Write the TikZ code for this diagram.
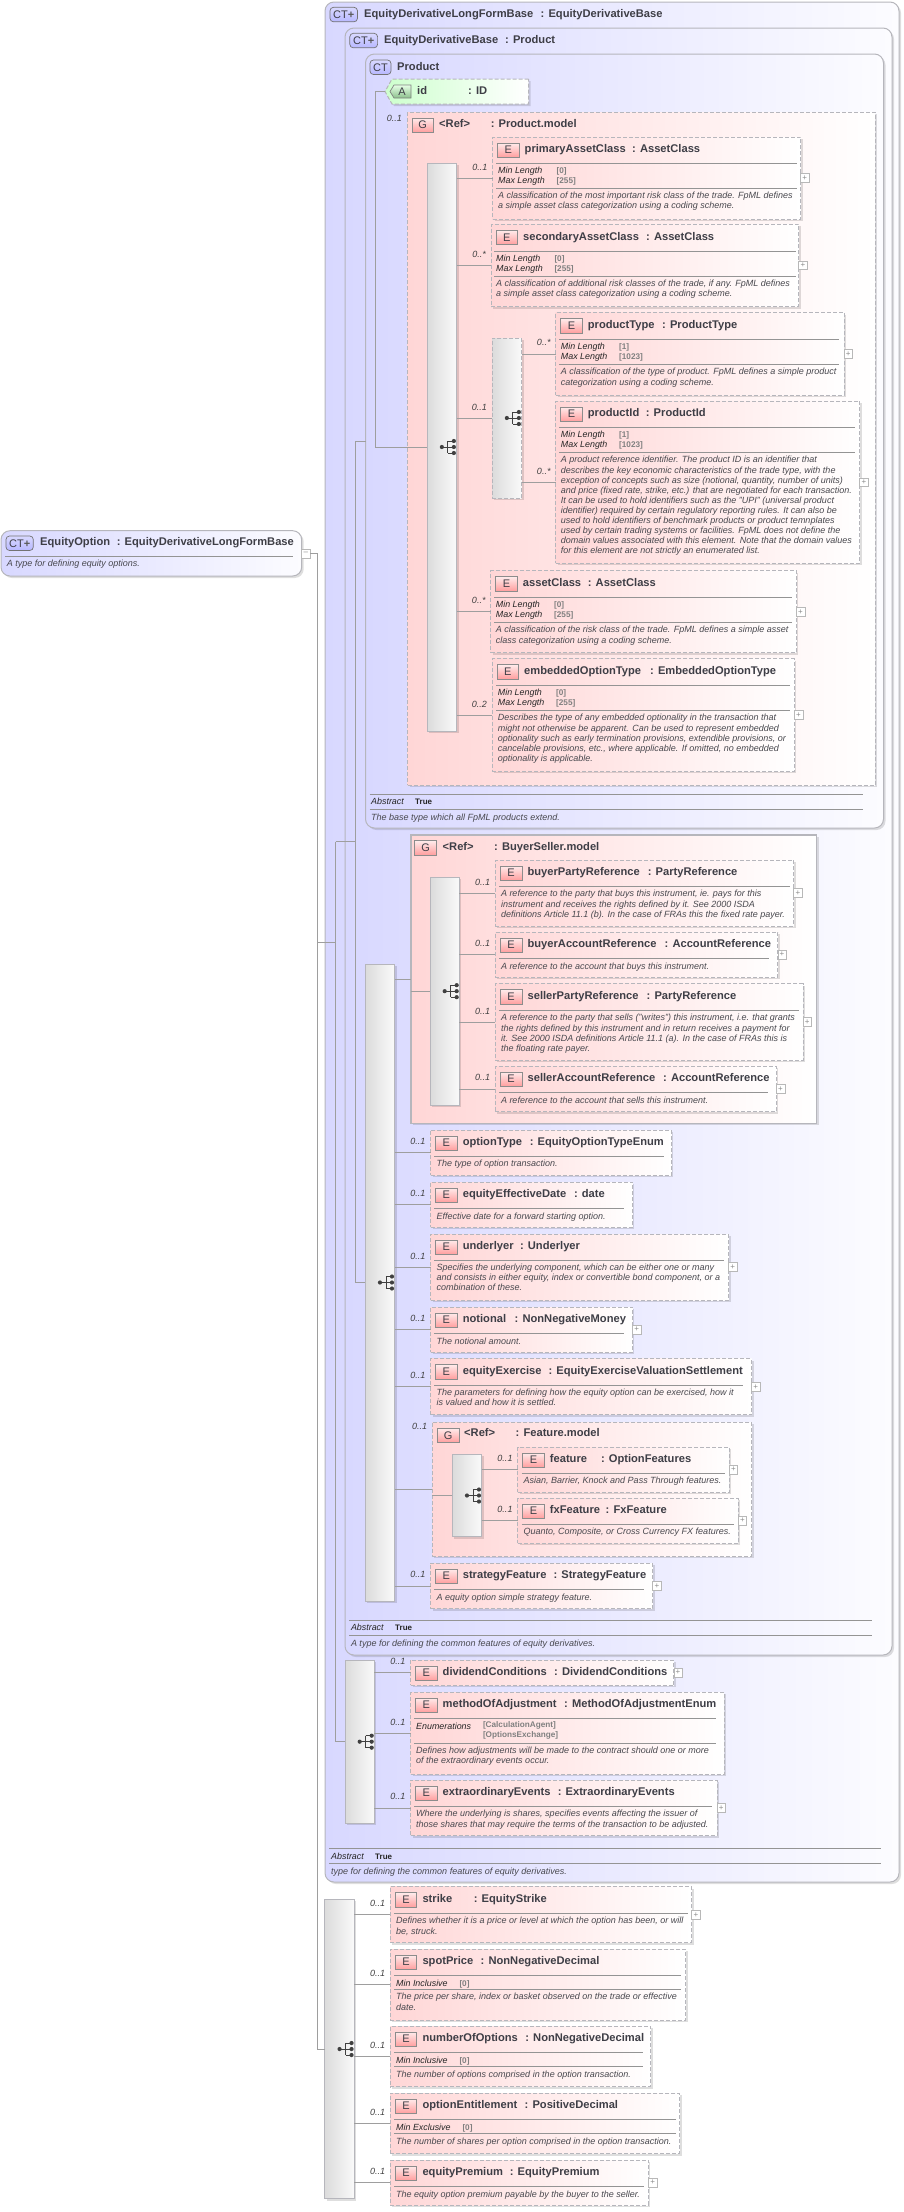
\documentclass[tikz,border=0pt]{standalone}
\usepackage{fontspec}
\setmainfont{Liberation Sans}
\usetikzlibrary{positioning,calc,shadows}

\definecolor{lavL}{RGB}{216,216,255}
\definecolor{lavM}{RGB}{236,236,255}
\definecolor{lavR}{RGB}{252,252,255}
\definecolor{pinkL}{RGB}{255,214,214}
\definecolor{pinkM}{RGB}{255,238,238}
\definecolor{greenL}{RGB}{205,255,205}
\definecolor{edgegray}{RGB}{182,182,188}
\definecolor{titlegray}{RGB}{62,62,70}
\definecolor{descgray}{RGB}{72,72,78}

\tikzset{
    sized/.style 2 args={anchor=north west, minimum width={(#1)*1pt}, minimum height={(#2)*1pt}, inner sep=0pt, outer sep=0pt},
    softshadow/.style={drop shadow={shadow xshift=2pt, shadow yshift=-2pt, fill=black, opacity=0.13}},
    ctbox/.style={draw=edgegray, line width=1pt, rounded corners=9pt, left color=lavL, middle color=lavM, right color=lavR, softshadow},
    modelbox/.style={draw=edgegray, line width=1pt, left color=pinkL, middle color=pinkM, right color=white, softshadow},
    groupdash/.style={modelbox, dash pattern=on 4pt off 2pt},
    elembox/.style={draw=edgegray, line width=1pt, dash pattern=on 4pt off 2pt, left color=pinkL, middle color=pinkM, right color=white, softshadow},
    seqbox/.style={draw=edgegray, line width=1pt, left color=black!14, right color=black!2, softshadow},
    seqdash/.style={seqbox, dash pattern=on 4pt off 2pt},
    eicon/.style={sized={21.5}{14.3}, draw=black!45, line width=0.7pt, top color=pinkL!50, bottom color=red!38, text=titlegray, font=\fontsize{11}{11}\selectfont},
    cticon/.style={sized={#1}{14.5}, draw=black!55, line width=0.7pt, rounded corners=3.5pt, top color=white!85!blue, bottom color=blue!28, text=titlegray, font=\fontsize{11}{11}\selectfont},
    txtname/.style={anchor=base west, inner sep=0pt, text=titlegray, font=\fontsize{11.15}{12}\selectfont\bfseries},
    firstline/.style={anchor=north west, yshift=#1, execute at begin node=\strut},
    desc/.style={firstline=7.07pt, inner sep=0pt, align=left, text=descgray, font=\fontsize{9}{10.1}\selectfont\itshape},
    facet/.style={firstline=7pt, inner sep=0pt, align=left, text=black!85, font=\fontsize{8.9}{10}\selectfont\itshape},
    facetval/.style={firstline=7pt, inner sep=0pt, align=left, text=black!50, font=\fontsize{8.2}{10}\selectfont\bfseries},
    trueval/.style={anchor=base west, inner sep=0pt, text=black!85, font=\fontsize{8}{10}\selectfont\bfseries},
    occ/.style={inner sep=0pt, text=black!75, font=\fontsize{9}{10}\selectfont\itshape},
    plusbox/.style={draw=black!28, fill=white, line width=0.6pt, minimum width=8.5pt, minimum height=8.5pt, inner sep=0pt, outer sep=0pt, text=black!45, font=\fontsize{8}{8}\selectfont},
    rulegray/.style={draw=black!42, line width=0.7pt},
    conn/.style={draw=black!38, line width=0.7pt},
    seqmark/.pic={
        \draw[black!75, line width=0.8pt] (0,0) -- (6,0) (6,-6) -- (6,6) (6,-6) -- (12,-6) (6,0) -- (12,0) (6,6) -- (12,6);
        \fill[black!75] (0,0) circle (2.1pt) (12,-6) circle (2.1pt) (12,0) circle (2.1pt) (12,6) circle (2.1pt);
    }
}

% element box: id, left, top, right, bottom, name, colon x, type
\newcommand{\elem}[8]{
    \node[elembox, sized={#4-#2}{#5-#3}] (#1) at (#2,#3) {};
    \node[eicon] (#1-icon) at ($(#1.north west)+(5,6)$) {E};
    \node[txtname] (#1-name) at ($(#1.north west)+(32,15.7)$) {#6};
    \node[txtname] (#1-type) at (#7,#3+15.7) {: #8};
}

\begin{document}
\begin{tikzpicture}[x=1pt, y=-1pt]
    \useasboundingbox (0,0) rectangle (903,2212);

    % root type
    \node[ctbox, sized={300.7}{45.3}] (optionBox) at (1,530.7) {};
    \node[cticon=27.3] (optionIcon) at (6,536) {CT{\fontsize{11}{10}\selectfont\bfseries\textcolor{black!65}{+}}};
    \node[txtname] (optionName) at (40,545.7) {EquityOption};
    \node[txtname] (optionType) at (116.7,545.7) {: EquityDerivativeLongFormBase};
    \draw[rulegray] (5,556) -- (293,556);
    \node[desc] (optionDesc) at (6.7,566.7) {A type for defining equity options.};
    \node[plusbox, anchor=west] (optionMinus) at (301.7,553.6) {\textendash};

    % nested complex types
    \node[ctbox, sized={574}{1880}] (ctOuter) at (325,2) {};
    \node[cticon=27.5] (ctOuterIcon) at (330,7.3) {CT{\fontsize{11}{10}\selectfont\bfseries\textcolor{black!65}{+}}};
    \node[txtname] (ctOuterName) at (364,17.3) {EquityDerivativeLongFormBase};
    \node[txtname] (ctOuterType) at (540.5,17.3) {: EquityDerivativeBase};

    \node[ctbox, sized={547}{1627}] (ctBase) at (345,28) {};
    \node[cticon=27.8] (ctBaseIcon) at (349.8,33.3) {CT{\fontsize{11}{10}\selectfont\bfseries\textcolor{black!65}{+}}};
    \node[txtname] (ctBaseName) at (384,43.3) {EquityDerivativeBase};
    \node[txtname] (ctBaseType) at (505,43.3) {: Product};

    \node[ctbox, sized={518}{774}] (ctProduct) at (365.5,54) {};
    \node[cticon=21] (ctProductIcon) at (370,60) {CT};
    \node[txtname] (ctProductName) at (397,70) {Product};

    % attribute
    \path[elembox, left color=greenL, middle color=greenL!40, right color=white] (528.5,79) -- (392,79) -- (385,91.5) -- (392,104) -- (528.5,104) -- cycle;
    \coordinate (idTip) at (385,91.5);
    \path[draw=black!50, line width=0.7pt, top color=green!10, bottom color=green!45!black!45] (411,85) -- (394,85) -- (390,91.5) -- (394,98) -- (411,98) -- cycle;
    \node[inner sep=0pt, text=titlegray, font=\fontsize{11}{11}\selectfont] (idIcon) at (402,92) {A};
    \node[txtname] (idName) at (417,94) {id};
    \node[txtname] (idType) at (468,94) {: ID};

    % Product.model
    \node[groupdash, sized={467.5}{673}] (productModel) at (407.5,112) {};
    \node[eicon] (productModelIcon) at (412,118) {G};
    \node[txtname] (productModelRef) at (439,127) {<Ref>};
    \node[txtname] (productModelType) at (490.6,127) {: Product.model};
    \node[occ, anchor=east] (productModelOcc) at (402,118) {0..1};
    \node[seqbox, sized={29.7}{568}] (seqP) at (427,163) {};
    \pic (seqPMark) at (seqP) {seqmark};

    \elem{primary}{492.5}{137}{800.5}{219}{primaryAssetClass}{632}{AssetClass}
    \draw[rulegray] (496,163.3) -- (797,163.3);
    \node[facet] (primaryFacet) at (498,174) {Min Length\\Max Length};
    \node[facetval] (primaryVal) at (556.5,174) {[0]\\{}[255]};
    \draw[rulegray] (496,188.7) -- (797,188.7);
    \node[desc] (primaryDesc) at (498,199) {A classification of the most important risk class of the trade. FpML defines\\a simple asset class categorization using a coding scheme.};

    \elem{secondary}{491}{224.3}{798.6}{306.7}{secondaryAssetClass}{646}{AssetClass}
    \draw[rulegray] (494,251.3) -- (795.5,251.3);
    \node[facet] (secondaryFacet) at (496,262) {Min Length\\Max Length};
    \node[facetval] (secondaryVal) at (554.3,262) {[0]\\{}[255]};
    \draw[rulegray] (494,276.7) -- (795.5,276.7);
    \node[desc] (secondaryDesc) at (496,287) {A classification of additional risk classes of the trade, if any. FpML defines\\a simple asset class categorization using a coding scheme.};

    \node[seqdash, sized={29.7}{160}] (seqC) at (492,338) {};
    \pic (seqCMark) at (seqC) {seqmark};

    \elem{productType}{555.7}{312.7}{844}{395}{productType}{662}{ProductType}
    \draw[rulegray] (559,339.3) -- (839,339.3);
    \node[facet] (productTypeFacet) at (560.7,350) {Min Length\\Max Length};
    \node[facetval] (productTypeVal) at (619,350) {[1]\\{}[1023]};
    \draw[rulegray] (559,364.3) -- (839,364.3);
    \node[desc] (productTypeDesc) at (560.7,375.3) {A classification of the type of product. FpML defines a simple product\\categorization using a coding scheme.};

    \elem{productId}{555.7}{401}{859.7}{563.3}{productId}{645.7}{ProductId}
    \draw[rulegray] (559,427.3) -- (855,427.3);
    \node[facet] (productIdFacet) at (560.7,438) {Min Length\\Max Length};
    \node[facetval] (productIdVal) at (619,438) {[1]\\{}[1023]};
    \draw[rulegray] (559,452.3) -- (855,452.3);
    \node[desc] (productIdDesc) at (560.7,463.3) {A product reference identifier. The product ID is an identifier that\\describes the key economic characteristics of the trade type, with the\\exception of concepts such as size (notional, quantity, number of units)\\and price (fixed rate, strike, etc.) that are negotiated for each transaction.\\It can be used to hold identifiers such as the "UPI" (universal product\\identifier) required by certain regulatory reporting rules. It can also be\\used to hold identifiers of benchmark products or product temnplates\\used by certain trading systems or facilities. FpML does not define the\\domain values associated with this element. Note that the domain values\\for this element are not strictly an enumerated list.};

    \elem{assetClass}{490.7}{570.7}{796.3}{652.7}{assetClass}{587.7}{AssetClass}
    \draw[rulegray] (494,597.3) -- (791.7,597.3);
    \node[facet] (assetClassFacet) at (495.7,608) {Min Length\\Max Length};
    \node[facetval] (assetClassVal) at (554,608) {[0]\\{}[255]};
    \draw[rulegray] (494,622.3) -- (791.7,622.3);
    \node[desc] (assetClassDesc) at (495.7,633.3) {A classification of the risk class of the trade. FpML defines a simple asset\\class categorization using a coding scheme.};

    \elem{embedded}{492}{658.7}{794.3}{771.3}{embeddedOptionType}{650}{EmbeddedOptionType}
    \draw[rulegray] (496,685.3) -- (789.7,685.3);
    \node[facet] (embeddedFacet) at (497.7,696) {Min Length\\Max Length};
    \node[facetval] (embeddedVal) at (556,696) {[0]\\{}[255]};
    \draw[rulegray] (496,710.3) -- (789.7,710.3);
    \node[desc] (embeddedDesc) at (497.7,721.3) {Describes the type of any embedded optionality in the transaction that\\might not otherwise be apparent. Can be used to represent embedded\\optionality such as early termination provisions, extendible provisions, or\\cancelable provisions, etc., where applicable. If omitted, no embedded\\optionality is applicable.};

    \draw[rulegray] (369.5,794) -- (863,794);
    \node[facet] (productAbstract) at (371,804) {Abstract};
    \node[trueval] (productTrue) at (415,804) {True};
    \draw[rulegray] (369.5,809.3) -- (863,809.3);
    \node[desc] (productDesc) at (371,820) {The base type which all FpML products extend.};

    % main sequence of the base type
    \node[seqbox, sized={29.5}{637}] (seqM) at (365.2,964) {};
    \pic (seqMMark) at (seqM) {seqmark};

    % BuyerSeller.model
    \node[modelbox, line width=1.2pt, sized={405.7}{288.3}] (buyerModel) at (410.9,835) {};
    \node[eicon] (buyerModelIcon) at (414.8,840.7) {G};
    \node[txtname] (buyerModelRef) at (442.5,850) {<Ref>};
    \node[txtname] (buyerModelType) at (494,850) {: BuyerSeller.model};
    \node[seqbox, sized={29.4}{227.7}] (seqB) at (430,877.3) {};
    \pic (seqBMark) at (seqB) {seqmark};

    \elem{buyerParty}{495.4}{860}{793.6}{926}{buyerPartyReference}{647.6}{PartyReference}
    \draw[rulegray] (499.4,886.3) -- (789.6,886.3);
    \node[desc] (buyerPartyDesc) at (500.8,897.3) {A reference to the party that buys this instrument, ie. pays for this\\instrument and receives the rights defined by it. See 2000 ISDA\\definitions Article 11.1 (b). In the case of FRAs this the fixed rate payer.};

    \elem{buyerAccount}{495.4}{932}{777.8}{977.3}{buyerAccountReference}{664.5}{AccountReference}
    \draw[rulegray] (499.4,958.3) -- (768.8,958.3);
    \node[desc] (buyerAccountDesc) at (500.8,969.3) {A reference to the account that buys this instrument.};

    \elem{sellerParty}{495.4}{983.7}{803}{1060.3}{sellerPartyReference}{646.5}{PartyReference}
    \draw[rulegray] (499.4,1010.3) -- (799,1010.3);
    \node[desc] (sellerPartyDesc) at (500.8,1021.3) {A reference to the party that sells ("writes") this instrument, i.e. that grants\\the rights defined by this instrument and in return receives a payment for\\it. See 2000 ISDA definitions Article 11.1 (a). In the case of FRAs this is\\the floating rate payer.};

    \elem{sellerAccount}{495.4}{1066}{776.3}{1111.7}{sellerAccountReference}{663}{AccountReference}
    \draw[rulegray] (499.4,1092.3) -- (768,1092.3);
    \node[desc] (sellerAccountDesc) at (500.8,1103.3) {A reference to the account that sells this instrument.};

    % elements of the main sequence
    \elem{optionTypeEl}{430.6}{1130}{671.3}{1175.3}{optionType}{529.6}{EquityOptionTypeEnum}
    \draw[rulegray] (434,1156.3) -- (663.7,1156.3);
    \node[desc] (optionTypeDesc) at (436.4,1166.7) {The type of option transaction.};

    \elem{effectiveDate}{430.6}{1182}{632.4}{1227.3}{equityEffectiveDate}{573.8}{date}
    \draw[rulegray] (434,1208.3) -- (624,1208.3);
    \node[desc] (effectiveDateDesc) at (436.4,1219) {Effective date for a forward starting option.};

    \elem{underlyer}{430.6}{1234}{728.5}{1300}{underlyer}{519.9}{Underlyer}
    \draw[rulegray] (434,1260.3) -- (724,1260.3);
    \node[desc] (underlyerDesc) at (436.4,1271) {Specifies the underlying component, which can be either one or many\\and consists in either equity, index or convertible bond component, or a\\combination of these.};

    \elem{notional}{430.6}{1307}{632.4}{1352.3}{notional}{514.5}{NonNegativeMoney}
    \draw[rulegray] (434,1333.3) -- (624,1333.3);
    \node[desc] (notionalDesc) at (436.4,1344) {The notional amount.};

    \elem{exercise}{430.6}{1358.7}{751.5}{1414.7}{equityExercise}{548.3}{EquityExerciseValuationSettlement}
    \draw[rulegray] (434,1385.3) -- (743,1385.3);
    \node[desc] (exerciseDesc) at (436.4,1396) {The parameters for defining how the equity option can be exercised, how it\\is valued and how it is settled.};

    % Feature.model
    \node[groupdash, sized={319.5}{134}] (featureModel) at (432.4,1422) {};
    \node[eicon] (featureModelIcon) at (437.5,1428.3) {G};
    \node[txtname] (featureModelRef) at (464,1436.7) {<Ref>};
    \node[txtname] (featureModelType) at (515.5,1436.7) {: Feature.model};
    \node[occ, anchor=east] (featureModelOcc) at (427.4,1426.7) {0..1};
    \node[seqbox, sized={29.5}{82.4}] (seqF) at (452.2,1454.3) {};
    \pic (seqFMark) at (seqF) {seqmark};

    \elem{feature}{517.7}{1447}{729.2}{1492.3}{feature}{600.8}{OptionFeatures}
    \draw[rulegray] (521.7,1473.3) -- (725,1473.3);
    \node[desc] (featureDesc) at (523.5,1483.7) {Asian, Barrier, Knock and Pass Through features.};

    \elem{fxFeature}{517.7}{1498}{738.2}{1543.3}{fxFeature}{605.5}{FxFeature}
    \draw[rulegray] (521.7,1524.3) -- (734,1524.3);
    \node[desc] (fxFeatureDesc) at (523.5,1534.7) {Quanto, Composite, or Cross Currency FX features.};

    \elem{strategy}{430.6}{1563}{652.6}{1608.7}{strategyFeature}{553.3}{StrategyFeature}
    \draw[rulegray] (434,1589.3) -- (644.3,1589.3);
    \node[desc] (strategyDesc) at (436.4,1600) {A equity option simple strategy feature.};

    \draw[rulegray] (349,1620) -- (872.4,1620);
    \node[facet] (baseAbstract) at (350.8,1630.7) {Abstract};
    \node[trueval] (baseTrue) at (395,1630.7) {True};
    \draw[rulegray] (349,1635.3) -- (872.4,1635.3);
    \node[desc] (baseDesc) at (350.8,1646) {A type for defining the common features of equity derivatives.};

    % sequence of the long form base
    \node[seqbox, sized={29.4}{163.3}] (seqD) at (345,1660) {};
    \pic (seqDMark) at (seqD) {seqmark};

    \elem{dividend}{410.5}{1660}{673.8}{1685.3}{dividendConditions}{554}{DividendConditions}

    \elem{adjustment}{410.5}{1692}{724}{1774}{methodOfAdjustment}{564}{MethodOfAdjustmentEnum}
    \draw[rulegray] (414,1718.3) -- (715.5,1718.3);
    \node[facet] (adjustmentFacet) at (416,1729) {Enumerations};
    \node[facetval] (adjustmentVal) at (482.8,1728.5) {[CalculationAgent]\\{}[OptionsExchange]};
    \draw[rulegray] (414,1743.3) -- (715.5,1743.3);
    \node[desc] (adjustmentDesc) at (416,1754) {Defines how adjustments will be made to the contract should one or more\\of the extraordinary events occur.};

    \elem{extraordinary}{410.5}{1780}{717}{1835.7}{extraordinaryEvents}{557.6}{ExtraordinaryEvents}
    \draw[rulegray] (414,1806.3) -- (712,1806.3);
    \node[desc] (extraordinaryDesc) at (416,1817.3) {Where the underlying is shares, specifies events affecting the issuer of\\those shares that may require the terms of the transaction to be adjusted.};

    \draw[rulegray] (329,1848.3) -- (880.5,1848.3);
    \node[facet] (outerAbstract) at (331,1859) {Abstract};
    \node[trueval] (outerTrue) at (375,1859) {True};
    \draw[rulegray] (329,1863.3) -- (880.5,1863.3);
    \node[desc] (outerDesc) at (331,1874) {type for defining the common features of equity derivatives.};

    % top level sequence
    \node[seqbox, sized={29.5}{299.4}] (seqT) at (324.8,1899.3) {};
    \pic (seqTMark) at (seqT) {seqmark};

    \elem{strike}{390.3}{1886.7}{691.6}{1942.7}{strike}{473.7}{EquityStrike}
    \draw[rulegray] (394,1913.3) -- (687.8,1913.3);
    \node[desc] (strikeDesc) at (396,1924.3) {Defines whether it is a price or level at which the option has been, or will\\be, struck.};

    \elem{spotPrice}{390.3}{1949}{685.5}{2020.3}{spotPrice}{480.5}{NonNegativeDecimal}
    \draw[rulegray] (394,1975.3) -- (680.6,1975.3);
    \node[facet] (spotPriceFacet) at (396,1986) {Min Inclusive};
    \node[facetval] (spotPriceVal) at (459.3,1986) {[0]};
    \draw[rulegray] (394,1989.3) -- (680.6,1989.3);
    \node[desc] (spotPriceDesc) at (396,2000.3) {The price per share, index or basket observed on the trade or effective\\date.};

    \elem{numberOptions}{390.3}{2026}{650.7}{2086.7}{numberOfOptions}{525.2}{NonNegativeDecimal}
    \draw[rulegray] (394,2052.3) -- (642.7,2052.3);
    \node[facet] (numberOptionsFacet) at (396,2063) {Min Inclusive};
    \node[facetval] (numberOptionsVal) at (459.3,2063) {[0]};
    \draw[rulegray] (394,2066.3) -- (642.7,2066.3);
    \node[desc] (numberOptionsDesc) at (396,2077.3) {The number of options comprised in the option transaction.};

    \elem{entitlement}{390.3}{2093}{679.5}{2153.7}{optionEntitlement}{524.5}{PositiveDecimal}
    \draw[rulegray] (394,2119.3) -- (675.7,2119.3);
    \node[facet] (entitlementFacet) at (396,2130) {Min Exclusive};
    \node[facetval] (entitlementVal) at (462.3,2130) {[0]};
    \draw[rulegray] (394,2133.3) -- (675.7,2133.3);
    \node[desc] (entitlementDesc) at (396,2144.3) {The number of shares per option comprised in the option transaction.};

    \elem{premium}{390.3}{2160}{648.4}{2205.3}{equityPremium}{509.7}{EquityPremium}
    \draw[rulegray] (394,2186.7) -- (644.2,2186.7);
    \node[desc] (premiumDesc) at (396,2197.3) {The equity option premium payable by the buyer to the seller.};

    % expand boxes
    \foreach \e in {primary,secondary,productType,productId,assetClass,embedded,buyerParty,buyerAccount,sellerParty,sellerAccount,underlyer,notional,exercise,feature,fxFeature,strategy,dividend,extraordinary,strike,premium}
        \node[plusbox, right=0pt of \e] (\e-plus) {+};

    % occurrence labels
    \foreach \e/\m in {primary/0..1,secondary/0..*,productType/0..*,productId/0..*,assetClass/0..*,embedded/0..2,buyerParty/0..1,buyerAccount/0..1,sellerParty/0..1,sellerAccount/0..1,optionTypeEl/0..1,effectiveDate/0..1,underlyer/0..1,notional/0..1,exercise/0..1,feature/0..1,fxFeature/0..1,strategy/0..1,dividend/0..1,adjustment/0..1,extraordinary/0..1,strike/0..1,spotPrice/0..1,numberOptions/0..1,entitlement/0..1,premium/0..1}
        \node[occ, left=5pt of \e.west, yshift=11pt] (\e-occ) {\m};
    \node[occ, left=5pt of seqC.west, yshift=11pt] (seqC-occ) {0..1};

    % connectors
    \foreach \s/\e in {seqP/primary,seqP/secondary,seqP/assetClass,seqP/embedded,seqP/seqC,seqC/productType,seqC/productId,seqB/buyerParty,seqB/buyerAccount,seqB/sellerParty,seqB/sellerAccount,seqM/buyerModel,seqM/optionTypeEl,seqM/effectiveDate,seqM/underlyer,seqM/notional,seqM/exercise,seqM/featureModel,seqM/strategy,seqF/feature,seqF/fxFeature,seqD/dividend,seqD/adjustment,seqD/extraordinary,seqT/strike,seqT/spotPrice,seqT/numberOptions,seqT/entitlement,seqT/premium}
        \draw[conn] (\s.east |- \e.west) -- (\e.west);
    \draw[conn] (buyerModel.west |- seqB.west) -- (seqB.west);
    \draw[conn] (featureModel.west |- seqF.west) -- (seqF.west);

    \coordinate (trunkA) at (317.7,0);
    \coordinate (trunkB) at (335.7,0);
    \coordinate (trunkC) at (355.3,0);
    \coordinate (trunkD) at (375.5,0);
    \draw[conn] (optionMinus.east) -- (trunkA |- optionMinus.east) -- (trunkA |- seqT.west) -- (seqT.west);
    \draw[conn] (trunkA |- ctOuter.west) -- (trunkB |- ctOuter.west);
    \draw[conn] (trunkB |- ctBase.west) -- (trunkB |- seqD.west) -- (seqD.west);
    \draw[conn] (trunkB |- ctBase.west) -- (trunkC |- ctBase.west);
    \draw[conn] (ctProduct.west) -- (trunkC |- ctProduct.west) -- (trunkC |- seqM.west) -- (seqM.west);
    \draw[conn] (idTip) -- (trunkD |- idTip) -- (trunkD |- seqP.west) -- (seqP.west);
\end{tikzpicture}
\end{document}
